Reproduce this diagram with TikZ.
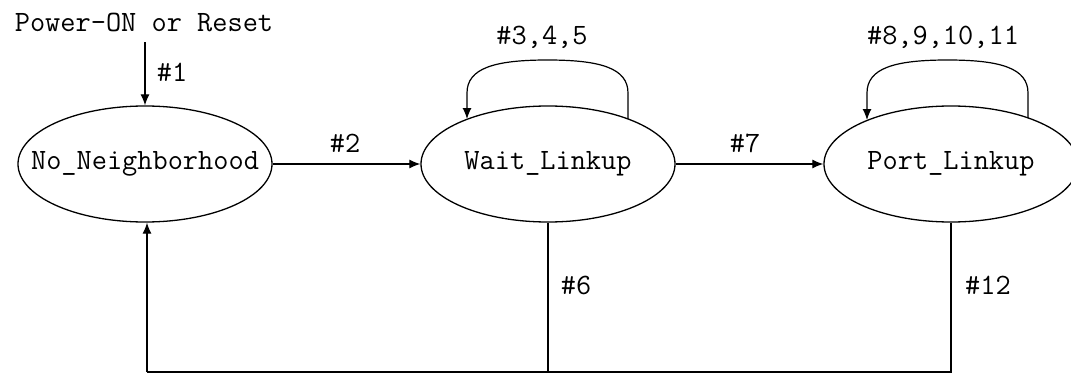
\documentclass[tikz,border=0pt]{standalone}
\usepackage{fontspec}
\usetikzlibrary{shapes.geometric,arrows.meta}
\tikzset{
  txt/.style={font=\ttfamily\fontsize{29.5}{32}\selectfont},
  state/.style={draw, ellipse, line width=1.3pt, minimum width=254pt, minimum height=116pt, inner sep=0pt, txt},
  lbl/.style={txt, inner sep=0pt},
  conn/.style={line width=1.2pt},
  arr/.style={conn, -{Latex[length=11pt,width=9pt]}}
}
\begin{document}
\begin{tikzpicture}[x=1pt,y=1pt]
\useasboundingbox (0,0) rectangle (1071,376);
\node[lbl] (pwr) at (144,354) {Power-ON or Reset};
\node[state] (e1) at (145,212) {\makebox[0pt]{No\_Neighborhood}};
\node[state] (e2) at (548,212) {\makebox[0pt]{Wait\_Linkup}};
\node[state] (e3) at (951,212) {\makebox[0pt]{Port\_Linkup}};
% #1
\coordinate (p1) at (145,334);
\draw[arr] (p1) -- (e1.north);
\node[lbl] (l1) at (172,304) {\#1};
% #2, #7
\draw[arr] (e1.east) -- (e2.west);
\node[lbl] (l2) at (345,233) {\#2};
\draw[arr] (e2.east) -- (e3.west);
\node[lbl] (l7) at (745,233) {\#7};
% loop on Wait_Linkup
\coordinate (ws) at (628,257);
\coordinate (w1) at (628,283);
\coordinate (w2) at (467,283);
\coordinate (we) at (467,257);
\draw[arr] (ws) -- (w1)
  .. controls (628,308) and (600,316) .. (547.5,316)
  .. controls (495,316) and (467,308) .. (w2) -- (we);
\node[lbl] (l345) at (542,339) {\#3,4,5};
% loop on Port_Linkup
\coordinate (qs) at (1028,258);
\coordinate (q1) at (1028,283);
\coordinate (q2) at (867,283);
\coordinate (qe) at (867,256);
\draw[arr] (qs) -- (q1)
  .. controls (1028,308) and (1000,316) .. (947.5,316)
  .. controls (895,316) and (867,308) .. (q2) -- (qe);
\node[lbl] (l811) at (943,339) {\#8,9,10,11};
% bottom return
\coordinate (b2) at (548,4);
\coordinate (b3) at (951,4);
\coordinate (b1) at (147,4);
\draw[conn] (e2.south) -- (b2);
\draw[conn] (e3.south) -- (b3) -- (b1);
\draw[arr] (b1) -- (e1.south -| b1);
\node[lbl] (l6) at (576,91) {\#6};
\node[lbl] (l12) at (988,91) {\#12};
\end{tikzpicture}
\end{document}
